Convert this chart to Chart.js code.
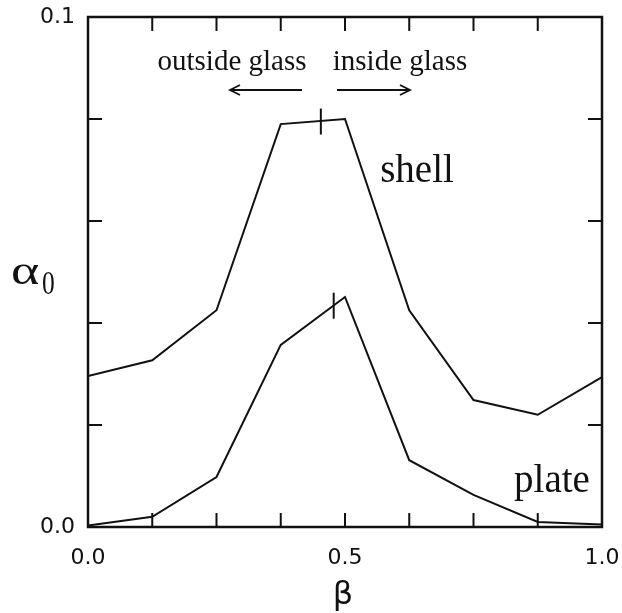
<!DOCTYPE html>
<html>
<head>
<meta charset="utf-8">
<script src="https://cdn.jsdelivr.net/npm/chart.js@4.4.1/dist/chart.umd.min.js"></script>
<style>
  html, body { margin: 0; padding: 0; background: #fff; }
</style>
</head>
<body>
<canvas id="myChart" width="622" height="613"></canvas>
<script>
// data
const betaValues  = [0, 0.125, 0.25, 0.375, 0.5, 0.625, 0.75, 0.875, 1.0];
const shellValues = [0.0296, 0.0327, 0.0425, 0.0790, 0.0800, 0.0425, 0.0249, 0.0220, 0.0294];
const plateValues = [0.0003, 0.0020, 0.0098, 0.0357, 0.0451, 0.0131, 0.0063, 0.0010, 0.0005];
// glass boundary marks on each curve
const markerBeta  = [0.453, 0.478];
const markerAlpha = [0.0795, 0.0434];
// labelled ticks
const xTickLabels = [0, 0.5, 1];
const yTickLabels = [0, 0.1];

const ink = '#111';
const tickFont = { family: 'DejaVu Sans', size: 22 };

function toPoints(xs, ys) {
    return xs.map((x, i) => ({ x: x, y: ys[i] }));
}

function isLabelled(list, v) {
    return list.some(t => Math.abs(t - v) < 1e-9);
}

// frame, inward ticks, titles and annotations
const decorations = {
    id: 'decorations',
    afterDraw(chart) {
        const c = chart.ctx;
        const a = chart.chartArea;
        const xs = chart.scales.x;
        const ys = chart.scales.y;
        const tl = 14;
        c.save();
        c.strokeStyle = ink;
        c.lineWidth = 2.5;
        c.strokeRect(a.left, a.top, a.right - a.left, a.bottom - a.top);
        c.lineWidth = 2;
        c.beginPath();
        xs.ticks.forEach(t => {
            const px = xs.getPixelForValue(t.value);
            c.moveTo(px, a.bottom); c.lineTo(px, a.bottom - tl);
            c.moveTo(px, a.top); c.lineTo(px, a.top + tl);
        });
        ys.ticks.forEach(t => {
            const py = ys.getPixelForValue(t.value);
            c.moveTo(a.left, py); c.lineTo(a.left + tl, py);
            c.moveTo(a.right, py); c.lineTo(a.right - tl, py);
        });
        c.stroke();

        c.fillStyle = ink;
        // axis titles
        c.textAlign = 'left';
        c.textBaseline = 'alphabetic';
        c.save();
        c.translate(11, 284);
        c.scale(1.35, 1);
        c.font = '40px "Liberation Serif"';
        c.fillText('α', 0, 0);
        c.restore();
        c.save();
        c.translate(42, 294);
        c.scale(0.75, 1);
        c.font = '34px "Liberation Serif"';
        c.fillText('0', 0, 0);
        c.restore();
        c.textAlign = 'center';
        c.font = '32px "DejaVu Sans"';
        c.fillText('β', 343, 604);

        // curve names
        c.font = '39px "Liberation Serif"';
        c.fillText('shell', 417, 182);
        c.fillText('plate', 552, 492);

        // region notes
        c.font = '29px "Liberation Serif"';
        c.fillText('outside glass', 232, 70);
        c.fillText('inside glass', 400, 70);

        // arrows
        const ay = 90;
        c.lineWidth = 1.8;
        c.beginPath();
        c.moveTo(302, ay); c.lineTo(230, ay);
        c.moveTo(240, ay - 5); c.lineTo(230, ay); c.lineTo(240, ay + 5);
        c.moveTo(337, ay); c.lineTo(410, ay);
        c.moveTo(400, ay - 5); c.lineTo(410, ay); c.lineTo(400, ay + 5);
        c.stroke();
        c.restore();
    }
};

const ctx = document.getElementById('myChart').getContext('2d');

const myChart = new Chart(ctx, {
    type: 'line',
    data: {
        datasets: [{
            label: 'shell',
            data: toPoints(betaValues, shellValues),
            borderColor: ink,
            borderWidth: 2,
            pointRadius: 0,
            tension: 0
        }, {
            label: 'plate',
            data: toPoints(betaValues, plateValues),
            borderColor: ink,
            borderWidth: 2,
            pointRadius: 0,
            tension: 0
        }, {
            label: 'glass boundary',
            data: toPoints(markerBeta, markerAlpha),
            showLine: false,
            pointStyle: 'line',
            rotation: 90,
            pointRadius: 13,
            borderColor: ink,
            borderWidth: 2
        }]
    },
    plugins: [decorations],
    options: {
        responsive: false,
        animation: false,
        devicePixelRatio: 1,
        layout: { padding: { top: 17, right: 20, left: 0, bottom: 0 } },
        plugins: {
            legend: { display: false },
            tooltip: { enabled: false }
        },
        scales: {
            x: {
                type: 'linear',
                min: 0,
                max: 1,
                grid: { display: false, drawTicks: false },
                border: { display: false },
                ticks: {
                    stepSize: 0.125,
                    autoSkip: false,
                    maxRotation: 0,
                    padding: 18,
                    color: ink,
                    font: tickFont,
                    callback: v => isLabelled(xTickLabels, v) ? v.toFixed(1) : ''
                },
                afterFit: s => {
                    s.height = 86;
                    s.paddingLeft = 0;
                    s.paddingRight = 0;
                }
            },
            y: {
                type: 'linear',
                min: 0,
                max: 0.1,
                grid: { display: false, drawTicks: false },
                border: { display: false },
                ticks: {
                    stepSize: 0.02,
                    autoSkip: false,
                    padding: 13,
                    color: ink,
                    font: tickFont,
                    callback: v => isLabelled(yTickLabels, v) ? v.toFixed(1) : ''
                },
                afterFit: s => {
                    s.width = 88;
                    s.paddingTop = 0;
                    s.paddingBottom = 0;
                }
            }
        }
    }
});
</script>
</body>
</html>
